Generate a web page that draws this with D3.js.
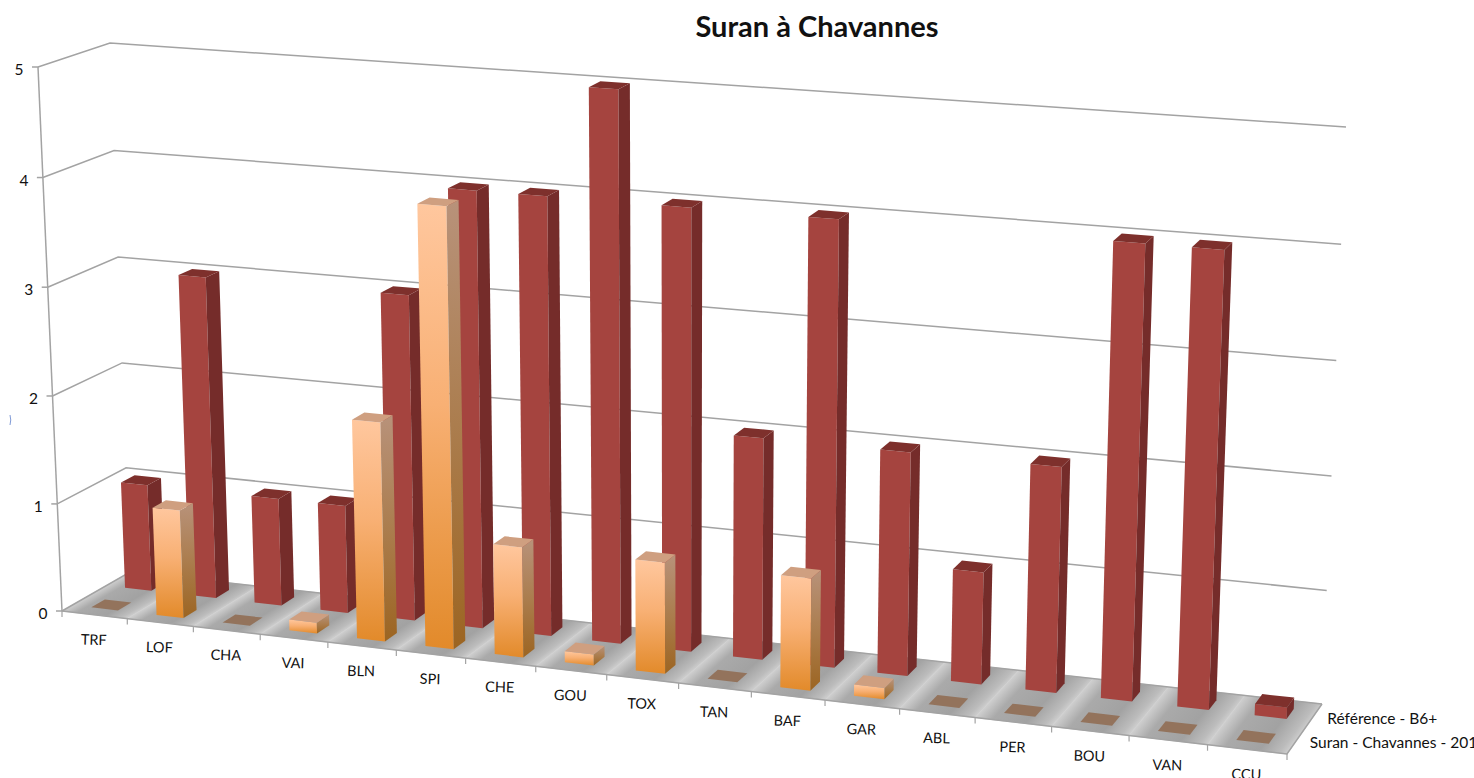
<!DOCTYPE html>
<html><head><meta charset="utf-8">
<script src="https://cdn.jsdelivr.net/npm/d3@7"></script>
<style>html,body{margin:0;padding:0;background:#fff;overflow:hidden}svg{display:block}text{font-family:Lato,"Noto Sans",sans-serif;fill:#111}</style>
</head><body><svg id="c" width="1474" height="778"></svg>
<script>
const categories=["TRF","LOF","CHA","VAI","BLN","SPI","CHE","GOU","TOX","TAN","BAF","GAR","ABL","PER","BOU","VAN","CCU"];
const seriesNames=["Suran - Chavannes - 2012","Référence - B6+"];
const suranValues=[0,1,0,0.1,2,4,1,0.1,1,0,1,0.1,0,0,0,0,0];
const referenceValues=[1,3,1,1,3,4,4,5,4,2,4,2,1,2,4,4,0.1];
const valueTicks=[0,1,2,3,4,5];

const svg=d3.select("#c");
const defs=svg.append("defs");

// Projection of the chart box: eight corners of the box on the page
const corners={fl0:[62,611],fl5:[38,67],bl0:[130,572],bl5:[110,43],fr0:[1287,754],fr5:[1309,164],br0:[1322,704],br5:[1346,127]};
const uScale=d3.scaleBand().domain(categories).range([0,1]).paddingInner(.59).paddingOuter(.295);
const uStep=d3.scaleLinear().domain([0,categories.length]).range([0,1]);
const dScale=d3.scaleBand().domain(seriesNames).range([0,1]).paddingInner(.6).paddingOuter(.3);
const vScale=d3.scaleLinear().domain([0,5]).range([0,1]);
const persp=k=>t=>t/(t+k*(1-t));
const warpU=persp(1.11), warpV=persp(1.02);
const lerp=(a,b,t)=>[a[0]+(b[0]-a[0])*t,a[1]+(b[1]-a[1])*t];
function project(u,d,v){
  const fu=warpU(u), fv=warpV(vScale(v));
  const f0=lerp(corners.fl0,corners.fr0,fu), f5=lerp(corners.fl5,corners.fr5,fu);
  const b0=lerp(corners.bl0,corners.br0,fu), b5=lerp(corners.bl5,corners.br5,fu);
  return lerp(lerp(f0,b0,d),lerp(f5,b5,d),fv);
}
const line=d3.line();
const poly=pts=>line(pts)+"Z";

// gradients
function vGrad(id,stops){
  const g=defs.append("linearGradient").attr("id",id).attr("x1",0).attr("y1",0).attr("x2",0).attr("y2",1);
  stops.forEach(([o,c])=>g.append("stop").attr("offset",o).attr("stop-color",c));
}
vGrad("oFront",[[0,"#ffc79e"],[.45,"#f8b074"],[1,"#e28a2a"]]);
vGrad("oSide",[[0,"#b8927a"],[.5,"#ab7d4e"],[1,"#9c6522"]]);

const gray="#a3a3a3";
// Floor cells with diagonal light and dark bands
const floor=svg.append("g");
categories.forEach((c,i)=>{
  const a=project(uStep(i),0,0), b=project(uStep(i+1),0,0), e=project(uStep(i),1,0);
  const ex=e[0]-a[0], ey=e[1]-a[1], len=Math.hypot(ex,ey), nx=-ey/len, ny=ex/len;
  const s=(b[0]-a[0])*nx+(b[1]-a[1])*ny;
  const id="fl"+i;
  const g=defs.append("linearGradient").attr("id",id).attr("gradientUnits","userSpaceOnUse")
    .attr("x1",a[0]).attr("y1",a[1]).attr("x2",a[0]+nx*s).attr("y2",a[1]+ny*s);
  [[0,"#cfcfcf"],[.22,"#aaaaaa"],[.65,"#a2a2a2"],[.9,"#bcbcbc"],[1,"#cfcfcf"]].forEach(([o,k])=>g.append("stop").attr("offset",o).attr("stop-color",k));
  floor.append("path").attr("d",poly([a,b,project(uStep(i+1),1,0),e])).attr("fill",`url(#${id})`).attr("stroke",`url(#${id})`).attr("stroke-width",.6);
});

// Walls and grid lines
const grid=svg.append("g").attr("fill","none").attr("stroke",gray).attr("stroke-width",1.5);
valueTicks.forEach(v=>{
  grid.append("path").attr("d",line([project(0,0,v),project(0,1,v),project(1,1,v)]));
  const p=project(0,0,v);
  grid.append("path").attr("d",line([[p[0]-6,p[1]],p]));
  svg.append("text").attr("x",p[0]-19).attr("y",p[1]+8).attr("text-anchor","middle").attr("font-size",15.5).text(d3.format("d")(v));
});
grid.append("path").attr("d",line([project(0,0,0),project(0,0,5)]));
grid.append("path").attr("d",line([project(0,0,0),project(1,0,0),project(1,1,0)]));
d3.range(categories.length+1).forEach(i=>{
  const p=project(uStep(i),0,0);
  grid.append("path").attr("d",line([p,[p[0],p[1]+6]])).attr("stroke-width",1.2);
});

// Bars
function drawBar(cat,ser,v,st){
  const u0=uScale(cat), u1=u0+uScale.bandwidth(), d0=dScale(ser), d1=d0+dScale.bandwidth();
  const g=svg.append("g");
  if(v===0){
    g.append("path").attr("d",poly([project(u0,d0,0),project(u1,d0,0),project(u1,d1,0),project(u0,d1,0)])).attr("fill",st.flat);
    return;
  }
  g.append("path").attr("d",poly([project(u0,d0,0),project(u1,d0,0),project(u1,d0,v),project(u0,d0,v)])).attr("fill",st.front);
  g.append("path").attr("d",poly([project(u1,d0,0),project(u1,d1,0),project(u1,d1,v),project(u1,d0,v)])).attr("fill",st.side);
  g.append("path").attr("d",poly([project(u0,d0,v),project(u1,d0,v),project(u1,d1,v),project(u0,d1,v)])).attr("fill",st.top);
}
const refStyle={front:"#a5443f",side:"#752c2a",top:"#7e302c",flat:"#7e302c"};
const surStyle={front:"url(#oFront)",side:"url(#oSide)",top:"#cf9f80",flat:"#93735c"};
categories.forEach((c,i)=>drawBar(c,seriesNames[1],referenceValues[i],refStyle));
categories.forEach((c,i)=>drawBar(c,seriesNames[0],suranValues[i],surStyle));

// Category labels
categories.forEach((c,i)=>{
  const p=project(uStep(i+.5),0,0);
  svg.append("text").attr("transform",`translate(${p[0]-1},${p[1]+30}) rotate(1.5)`).attr("text-anchor","middle").attr("font-size",14.5).text(c);
});
// Series labels on the depth axis
seriesNames.forEach((s,i)=>{
  const p=project(1,dScale(s)+dScale.bandwidth()/2,0);
  svg.append("text").attr("x",p[0]+14).attr("y",p[1]+(i?7:6)).attr("font-size",15.5).text(s);
});
// Title
svg.append("text").attr("x",817).attr("y",37).attr("text-anchor","middle").attr("font-size",29).attr("font-weight",700).text("Suran à Chavannes");
// Small blue stray mark at the left edge of the reference
svg.append("path").attr("d","M10,415Q11.5,420 10,425").attr("fill","none").attr("stroke","#7f9ad6").attr("stroke-width",1);
</script></body></html>
